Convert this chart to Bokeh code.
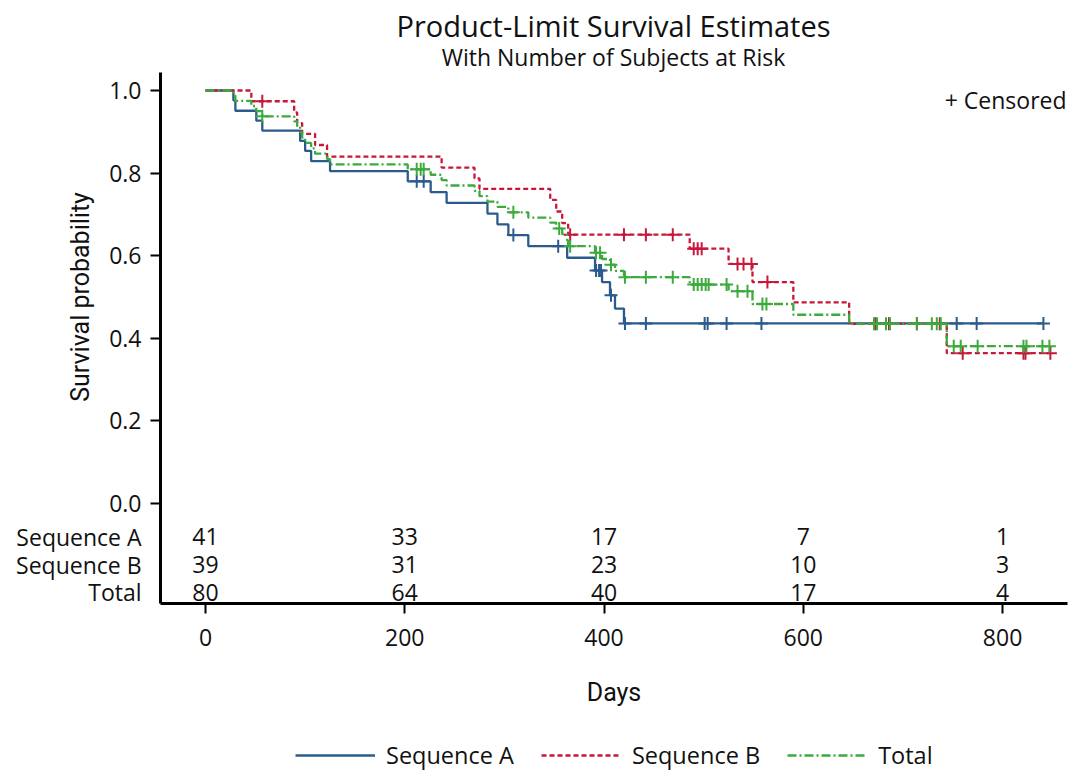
import numpy as np
from math import pi
from bokeh.plotting import figure
from bokeh.models import (Range1d, FixedTicker, PrintfTickFormatter, Label,
                          Legend, LegendItem)
from bokeh.core.properties import value
from bokeh.embed import file_html
from bokeh.resources import INLINE

# ---------------- data ----------------
A_times = [0, 28, 30, 51, 57, 95, 100, 106, 125, 203, 226, 242, 283, 293, 304,
           324, 363, 391, 398, 406, 411, 420]
A_surv = [1.0, 0.976, 0.951, 0.927, 0.903, 0.878, 0.854, 0.829, 0.805, 0.780,
          0.754, 0.728, 0.702, 0.676, 0.650, 0.623, 0.595, 0.564, 0.536, 0.504,
          0.472, 0.436]
A_end = 841
A_censor = [212, 219, 309, 354, 392, 395, 397, 407, 421, 442, 501, 504, 523,
            558, 754, 774, 841]

B_times = [0, 46, 89, 92, 97, 110, 122, 237, 270, 275, 346, 352, 358, 364,
           486, 525, 549, 590, 646, 744]
B_surv = [1.0, 0.974, 0.947, 0.921, 0.895, 0.868, 0.840, 0.813, 0.787, 0.762,
          0.735, 0.707, 0.679, 0.651, 0.617, 0.580, 0.536, 0.487, 0.435, 0.364]
B_end = 848
B_censor = [57, 366, 420, 442, 469, 490, 494, 498, 534, 540, 548, 564, 672,
            686, 714, 737, 760, 821, 823, 848]

T_times = [0, 28, 30, 46, 51, 57, 89, 92, 95, 97, 100, 106, 110, 122, 125,
           203, 226, 237, 242, 270, 275, 283, 293, 304, 324, 346, 352, 358,
           363, 364, 391, 398, 406, 411, 420, 486, 525, 549, 590, 646, 744]
T_surv = [1.0, 0.9875, 0.975, 0.9625, 0.950, 0.9375, 0.925, 0.912, 0.899,
          0.886, 0.873, 0.860, 0.847, 0.834, 0.821, 0.809, 0.796, 0.783,
          0.770, 0.757, 0.744, 0.731, 0.718, 0.705, 0.692, 0.680, 0.666,
          0.652, 0.637, 0.623, 0.607, 0.592, 0.578, 0.563, 0.548, 0.530,
          0.514, 0.483, 0.457, 0.435, 0.381]
T_end = 848
T_censor = [57, 212, 216, 219, 309, 355, 366, 392, 396, 407, 421, 442, 469,
            490, 494, 498, 502, 505, 523, 534, 544, 559, 563, 671, 674, 683,
            687, 714, 729, 734, 738, 751, 758, 775, 821, 824, 840, 847]

risk_times = [0, 200, 400, 600, 800]
risk_A = [41, 33, 17, 7, 1]
risk_B = [39, 31, 23, 10, 3]
risk_T = [80, 64, 40, 17, 4]
risk_names = ["Sequence A", "Sequence B", "Total"]

x_ticks = [0, 200, 400, 600, 800]
y_ticks = [0.0, 0.2, 0.4, 0.6, 0.8, 1.0]

title_text = "Product-Limit Survival Estimates"
subtitle_text = "With Number of Subjects at Risk"

# ---------------- layout / styling ----------------
BLUE = "#2B5B8C"
RED = "#C8173A"
GREEN = "#3DAA3D"
INK = "#111111"
FONT = "Open Sans"
NARROW = "Roboto"
X_LO, X_HI = -45.2, 865.3          # extent of the drawn x axis
Y_LO, Y_HI = -0.2421, 1.0436       # extent of the drawn y axis
ROW_Y = [-0.080, -0.148, -0.2155]  # rows of the at-risk table
W, H = 1072, 773

p = figure(width=W, height=H, output_backend="svg", toolbar_location=None,
           x_range=Range1d(-205.76, 870.2), y_range=Range1d(-0.6538, 1.2179),
           min_border=0)
p.outline_line_color = None
p.xgrid.visible = False
p.ygrid.visible = False
p.background_fill_color = "white"
p.border_fill_color = "white"


def step_val(times, surv, t):
    i = np.searchsorted(np.asarray(times), t, side="right") - 1
    return surv[i]


def draw(times, surv, end, cens, color, dash):
    xs = list(times) + [end]
    ys = list(surv) + [surv[-1]]
    r = p.step(xs, ys, mode="after", line_color=color, line_width=2.3,
               line_dash=dash)
    cy = [step_val(times, surv, t) for t in cens]
    p.scatter(cens, cy, marker="cross", size=13, line_color=color,
              line_width=2)
    return r


rA = draw(A_times, A_surv, A_end, A_censor, BLUE, "solid")
rB = draw(B_times, B_surv, B_end, B_censor, RED, "5 3")
rT = draw(T_times, T_surv, T_end, T_censor, GREEN, "9 3 2 3")

# at-risk table
for row_y, counts in zip(ROW_Y, [risk_A, risk_B, risk_T]):
    p.text(risk_times, [row_y] * len(risk_times), text=[str(c) for c in counts],
           text_align="center", text_baseline="middle",
           text_font=value(FONT), text_font_size="23px", text_color=INK)
for row_y, name in zip(ROW_Y, risk_names):
    p.add_layout(Label(x=-64.2, y=row_y, text=name, text_align="right",
                       text_baseline="middle", text_font=FONT,
                       text_font_size="23px", text_color=INK))

# axes (drawn at the corner of the survival panel)
for ax in (p.xaxis, p.yaxis):
    ax.axis_line_width = 3
    ax.axis_line_color = "black"
    ax.major_tick_line_width = 2
    ax.major_tick_out = 10
    ax.major_tick_in = 0
    ax.minor_tick_line_color = None
    ax.major_label_text_font = FONT
    ax.major_label_text_font_size = "23px"
    ax.major_label_text_color = INK

p.xaxis.fixed_location = Y_LO
p.xaxis.bounds = (X_LO, X_HI)
p.yaxis.fixed_location = X_LO
p.yaxis.bounds = (Y_LO, Y_HI)
p.xaxis.ticker = FixedTicker(ticks=x_ticks)
p.yaxis.ticker = FixedTicker(ticks=y_ticks)
p.yaxis.formatter = PrintfTickFormatter(format="%.1f")
p.xaxis.major_label_standoff = 16
p.yaxis.major_label_standoff = 9
p.xaxis.axis_label = "Days"
p.xaxis.axis_label_text_font = NARROW
p.xaxis.axis_label_text_font_style = "normal"
p.xaxis.axis_label_text_font_size = "25px"
p.xaxis.axis_label_text_color = INK
p.xaxis.axis_label_standoff = 28

p.add_layout(Label(x=-125.5, y=0.5, text="Survival probability", angle=pi / 2,
                   text_align="center", text_baseline="middle",
                   text_font=NARROW, text_font_size="25px", text_color=INK))

# titles
p.add_layout(Label(x=409.5, y=1.1574, text=title_text, text_align="center",
                   text_baseline="middle", text_font=FONT,
                   text_font_size="29px", text_color=INK))
p.add_layout(Label(x=409.5, y=1.0799, text=subtitle_text, text_align="center",
                   text_baseline="middle", text_font=FONT,
                   text_font_size="23px", text_color=INK))
p.add_layout(Label(x=864.2, y=0.978, text="+ Censored", text_align="right",
                   text_baseline="middle", text_font=FONT,
                   text_font_size="23px", text_color=INK))

legend = Legend(items=[LegendItem(label="Sequence A", renderers=[rA]),
                       LegendItem(label="Sequence B", renderers=[rB]),
                       LegendItem(label="Total", renderers=[rT])],
                orientation="horizontal", location=(295, 2),
                glyph_width=80, glyph_height=20, label_standoff=11,
                spacing=27, border_line_color=None, background_fill_alpha=0,
                label_text_font=FONT, label_text_font_size="23.5px",
                label_text_color=INK, margin=0, padding=2)
p.add_layout(legend)

open("out.html", "w").write(file_html(p, INLINE))
